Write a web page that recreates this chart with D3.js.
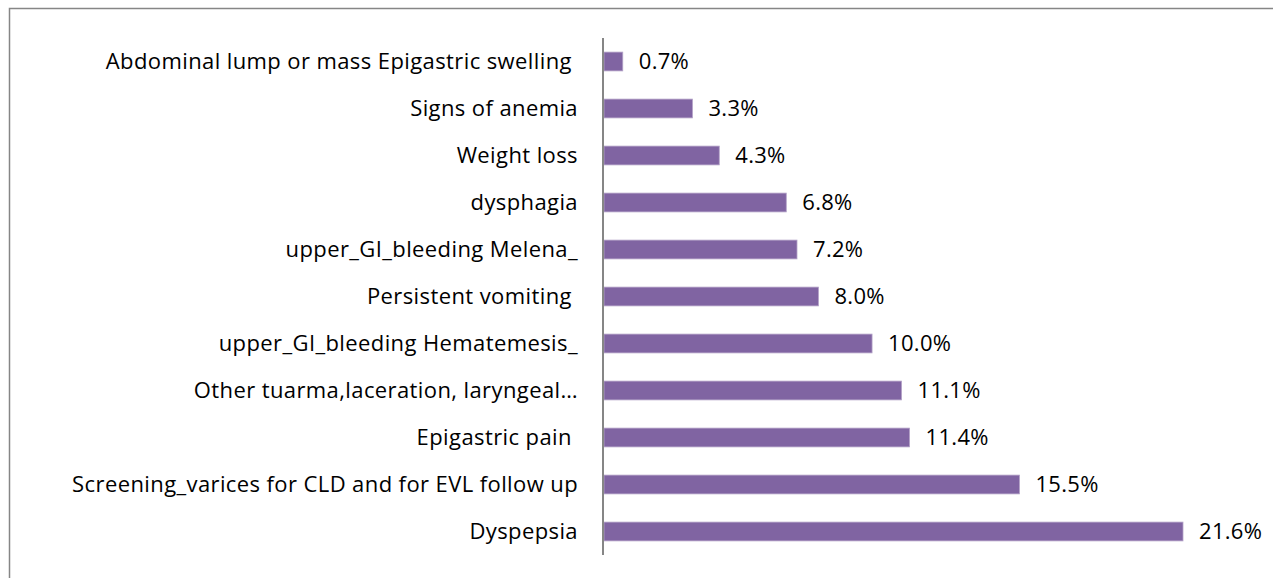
<!DOCTYPE html>
<html><head><meta charset="utf-8">
<script src="https://cdn.jsdelivr.net/npm/d3@7"></script>
<style>
body{margin:0;background:#fff;}
svg text{font-family:"Open Sans",sans-serif;white-space:pre;fill:#000;}
</style></head>
<body><svg id="c" width="1273" height="578"></svg>
<script>
const categories = [
  "Abdominal lump or mass Epigastric swelling ",
  "Signs of anemia",
  "Weight loss",
  "dysphagia",
  "upper_GI_bleeding Melena_",
  "Persistent vomiting ",
  "upper_GI_bleeding Hematemesis_",
  "Other tuarma,laceration, laryngeal…",
  "Epigastric pain ",
  "Screening_varices for CLD and for EVL follow up",
  "Dyspepsia"
];
const values = [0.7, 3.3, 4.3, 6.8, 7.2, 8.0, 10.0, 11.1, 11.4, 15.5, 21.6];

const svg = d3.select("#c");
// frame
svg.append("rect").attr("x",9.5).attr("y",8.5).attr("width",1290).attr("height",600)
  .attr("fill","none").attr("stroke","#868686").attr("stroke-width",1.5);

const x0 = 604;
const x = d3.scaleLinear().domain([0, 21.6]).range([x0, 1183]);
const y = d3.scaleBand().domain(categories).range([38, 555]).paddingInner(0.6).paddingOuter(0.3);

const data = categories.map((c,i)=>({c, v: values[i]}));

svg.selectAll("rect.bar").data(data).enter().append("rect").attr("class","bar")
  .attr("x", x(0)).attr("y", d=>y(d.c)).attr("width", d=>x(d.v)-x(0)).attr("height", y.bandwidth())
  .attr("fill","#8064A2").attr("stroke","#B3A2C7").attr("stroke-width",0.8);

const fs = 22;
const ax = svg.append("g").attr("transform",`translate(${x0-1},0)`)
  .call(d3.axisLeft(y).tickSize(0).tickPadding(25));
ax.select(".domain").attr("stroke","#868686").attr("stroke-width",2)
  .attr("d", `M0,38V555`);
ax.attr("font-family", null).attr("font-size", null);
ax.selectAll("text").style("font-size", fs+"px").style("letter-spacing","0.4px").attr("fill","#000");

svg.selectAll("text.val").data(data).enter().append("text").attr("class","val")
  .attr("x", d=>x(d.v)+16).attr("y", d=>y(d.c)+y.bandwidth()/2).attr("dy","0.35em")
  .style("font-size", fs+"px").style("letter-spacing","0.3px").text(d=>d.v.toFixed(1)+"%");
</script></body></html>
